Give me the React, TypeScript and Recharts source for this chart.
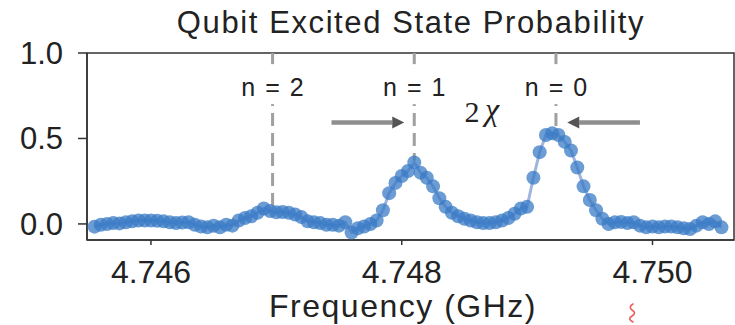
import React from 'react';
import { ComposedChart, Line, XAxis, YAxis, ReferenceLine, ReferenceDot, ReferenceArea } from 'recharts';

const freqs = [
  4.74555, 4.7456, 4.74565, 4.7457, 4.74575, 4.7458, 4.74585, 4.7459, 4.74595, 4.746,
  4.74605, 4.7461, 4.74615, 4.7462, 4.74625, 4.7463, 4.74635, 4.7464, 4.74645, 4.7465,
  4.74655, 4.7466, 4.74665, 4.7467, 4.74675, 4.7468, 4.74685, 4.7469, 4.74695, 4.747,
  4.74705, 4.7471, 4.74715, 4.7472, 4.74725, 4.7473, 4.74735, 4.7474, 4.74745, 4.7475,
  4.74755, 4.7476, 4.74765, 4.7477, 4.74775, 4.7478, 4.74785, 4.7479, 4.74795, 4.748,
  4.74805, 4.7481, 4.74815, 4.7482, 4.74825, 4.7483, 4.74835, 4.7484, 4.74845, 4.7485,
  4.74855, 4.7486, 4.74865, 4.7487, 4.74875, 4.7488, 4.74885, 4.7489, 4.74895, 4.749,
  4.74905, 4.7491, 4.74915, 4.7492, 4.74925, 4.7493, 4.74935, 4.7494, 4.74945, 4.7495,
  4.74955, 4.7496, 4.74965, 4.7497, 4.74975, 4.7498, 4.74985, 4.7499, 4.74995, 4.75,
  4.75005, 4.7501, 4.75015, 4.7502, 4.75025, 4.7503, 4.75035, 4.7504, 4.75045, 4.7505,
  4.75055,
];

const prob = [
  -0.016, -0.005, 0.0, 0.005, 0.003, 0.01, 0.015, 0.02, 0.02, 0.02,
  0.018, 0.015, 0.01, 0.005, 0.008, 0.01, -0.005, -0.015, -0.02, -0.01,
  -0.02, -0.005, -0.01, 0.02, 0.035, 0.045, 0.065, 0.09, 0.075, 0.068,
  0.07, 0.065, 0.055, 0.04, 0.015, 0.01, 0.005, -0.005, -0.005, -0.01,
  0.01, -0.05, -0.025, -0.015, 0.0, 0.02, 0.08, 0.18, 0.24, 0.28,
  0.31, 0.36, 0.3, 0.27, 0.22, 0.15, 0.1, 0.065, 0.045, 0.03,
  0.02, 0.01, 0.005, 0.005, 0.01, 0.02, 0.035, 0.06, 0.09, 0.1,
  0.27, 0.42, 0.52, 0.53, 0.52, 0.48, 0.43, 0.33, 0.22, 0.14,
  0.08, 0.03, 0.0, 0.01, 0.012, 0.005, 0.01, -0.01, -0.02, -0.015,
  -0.02, -0.015, -0.015, -0.02, -0.025, -0.03, -0.01, 0.01, 0.0, 0.015,
  -0.02,
];

const xTicks = [4.746, 4.748, 4.75];
const yTicks = [0, 0.5, 1.0];
const xDomain = [4.74549, 4.75065];
const yDomain = [-0.094, 1.0];

const peakLabels = ['n=2', 'n=1', 'n=0'];
const peakFreqs = [4.74697, 4.7481, 4.74923];
const peakHeights = [0.1, 0.37, 0.54];
const labelLevel = 0.853;

const arrowLeft = [4.74744, 4.74802];
const arrowRight = [4.7499, 4.74932];
const arrowLevel = 0.594;
const chiPos = { f: 4.74864, p: 0.606 };

const data = freqs.map((f, i) => ({ f, p: prob[i] }));

const SANS = 'Liberation Sans, Arial, Helvetica, sans-serif';
const SERIF = 'Liberation Serif, DejaVu Serif, serif';

const Arrow = (props: any) => {
  const { x1, y1, x2, y2 } = props;
  const dir = x2 > x1 ? 1 : -1;
  const headLen = 12;
  const headHalf = 6;
  const bx = x2 - dir * headLen;
  return (
    <g>
      <line x1={x1} y1={y1} x2={bx} y2={y2} stroke="#7a7a7a" strokeWidth={4.5} strokeOpacity={0.85} />
      <polygon
        points={`${x2},${y2} ${bx},${y2 - headHalf} ${bx},${y2 + headHalf}`}
        fill="#555"
      />
    </g>
  );
};

const makeLabelShape = (text: string) => (props: any) => {
  const { cx, cy } = props;
  return (
    <g>
      <rect x={cx - 36} y={cy - 14} width={72} height={40} fill="#fff" />
      <text
        x={cx + 5}
        y={cy + 18}
        textAnchor="middle"
        fontFamily={SANS}
        fontSize={25}
        letterSpacing={10}
        fill="#222"
      >
        {text}
      </text>
    </g>
  );
};

const ChiShape = (props: any) => {
  const { cx, cy } = props;
  return (
    <g>
      <text x={cx - 10} y={cy + 2} textAnchor="middle" fontFamily={SERIF} fontSize={30} fill="#222">
        2
      </text>
      <text x={cx + 10} y={cy} textAnchor="middle" fontFamily={SERIF} fontStyle="italic" fontSize={32} fill="#222">
        χ
      </text>
    </g>
  );
};

const XLabel = () => (
  <text x={403} y={317} textAnchor="middle" fontFamily={SANS} fontSize={32} letterSpacing={1.5} fill="#222">
    Frequency (GHz)
  </text>
);

export default function App() {
  return (
    <div style={{ position: 'absolute', left: 0, top: 0, width: 735, height: 325, background: '#fff' }}>
      <ComposedChart
        width={735}
        height={325}
        data={data}
        margin={{ top: 53, right: 1, bottom: 0, left: 0 }}
      >
        <XAxis
          dataKey="f"
          type="number"
          domain={xDomain}
          allowDataOverflow
          ticks={xTicks}
          tickFormatter={(v: number) => v.toFixed(3)}
          height={85}
          tickSize={5}
          tickMargin={15}
          stroke="#333"
          strokeWidth={1.5}
          tick={{ fontSize: 32, fill: '#222', fontFamily: SANS }}
          label={<XLabel />}
        />
        <YAxis
          type="number"
          domain={yDomain}
          allowDataOverflow
          ticks={yTicks}
          tickFormatter={(v: number) => v.toFixed(1)}
          width={87}
          tickSize={9}
          tickMargin={15}
          stroke="#333"
          strokeWidth={1.5}
          tick={{ fontSize: 31, fill: '#222', fontFamily: SANS }}
        />
        <ReferenceArea
          x1={xDomain[0]}
          x2={xDomain[1]}
          y1={yDomain[0]}
          y2={yDomain[1]}
          fill="none"
          stroke="#333"
          strokeWidth={1.5}
          ifOverflow="visible"
        />
        {peakFreqs.map((f, i) => (
          <ReferenceLine
            key={'v' + i}
            segment={[{ x: f, y: yDomain[1] }, { x: f, y: peakHeights[i] }]}
            stroke="#a0a0a0"
            strokeWidth={3}
            strokeDasharray="13 7"
            ifOverflow="visible"
          />
        ))}
        {peakFreqs.map((f, i) => (
          <ReferenceDot
            key={'l' + i}
            x={f}
            y={labelLevel}
            r={0}
            ifOverflow="visible"
            shape={makeLabelShape(peakLabels[i])}
          />
        ))}
        <ReferenceLine
          segment={[{ x: arrowLeft[0], y: arrowLevel }, { x: arrowLeft[1], y: arrowLevel }]}
          ifOverflow="visible"
          shape={Arrow}
        />
        <ReferenceLine
          segment={[{ x: arrowRight[0], y: arrowLevel }, { x: arrowRight[1], y: arrowLevel }]}
          ifOverflow="visible"
          shape={Arrow}
        />
        <ReferenceDot x={chiPos.f} y={chiPos.p} r={0} ifOverflow="visible" shape={ChiShape} />
        <Line
          dataKey="p"
          type="linear"
          stroke="#8ea8d8"
          strokeWidth={3}
          strokeOpacity={0.85}
          dot={{ r: 7, fill: '#3a7bc6', fillOpacity: 0.75, stroke: 'none' }}
          activeDot={false}
          isAnimationActive={false}
        />
      </ComposedChart>
      <svg
        width={735}
        height={325}
        style={{ position: 'absolute', left: 0, top: 0, pointerEvents: 'none' }}
      >
        <text x={411} y={33} textAnchor="middle" fontFamily={SANS} fontSize={31} letterSpacing={1.6} fill="#222">
          Qubit Excited State Probability
        </text>
        <path
          d="M633 304 q-5 3 -1 6 q5 3 0 6 q-5 3 1 6"
          fill="none"
          stroke="#ef5b5b"
          strokeWidth={1.6}
          strokeLinecap="round"
        />
      </svg>
    </div>
  );
}
